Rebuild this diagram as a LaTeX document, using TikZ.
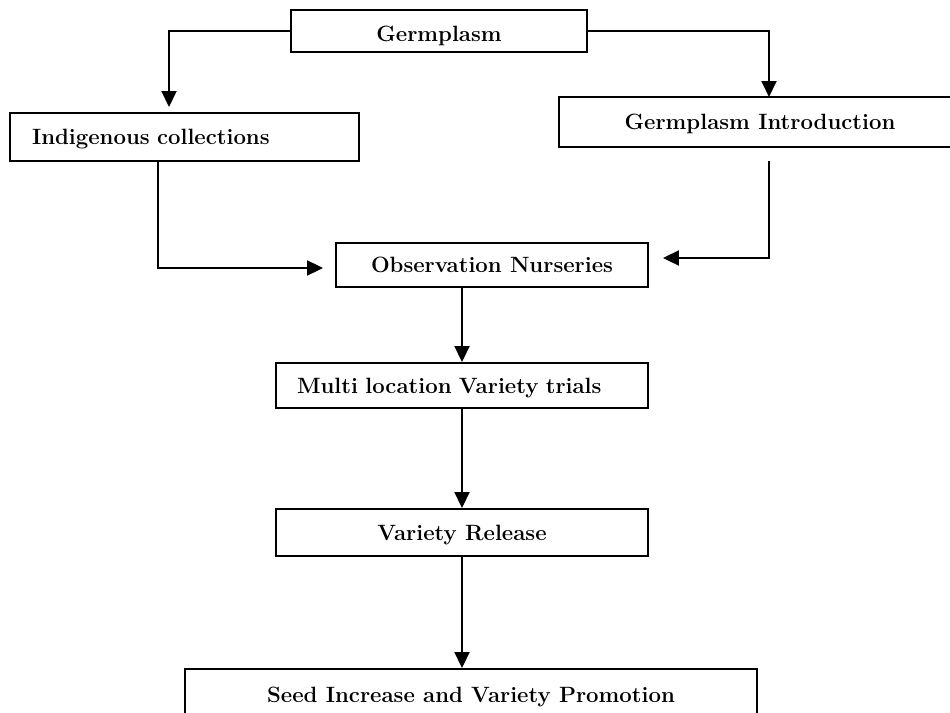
\documentclass[tikz,border=0pt]{standalone}
\usetikzlibrary{arrows.meta}
\begin{document}
\begin{tikzpicture}[x=0.02cm,y=-0.02cm,font=\bfseries\fontsize{12.6}{15}\selectfont,
  >={Triangle[length=0.32cm,width=0.3cm]},line width=1.1pt,
  box/.style={draw,rectangle,text height=8.6pt,text depth=0pt,inner sep=0pt}]
  \useasboundingbox[fill=white] (0,0) rectangle (950,713);
  \node[box,minimum width=5.92cm,minimum height=0.84cm,text height=11.4pt] (germ) at (439,31) {Germplasm};
  \node[box,align=left,text width=6.1cm,inner xsep=0.44cm,minimum height=0.96cm] (indig) at (184.5,137) {Indigenous collections};
  \node[box,minimum width=8.04cm,minimum height=1cm] (intro) at (760,122) {Germplasm Introduction};
  \node[box,minimum width=6.24cm,minimum height=0.88cm] (obs) at (492,265) {Observation Nurseries};
  \node[box,align=left,text width=6.6cm,inner xsep=0.42cm,minimum height=0.9cm] (multi) at (462,385.5) {Multi location Variety trials};
  \node[box,minimum width=7.44cm,minimum height=0.94cm] (release) at (462,532.5) {Variety Release};
  \node[box,minimum width=11.44cm,minimum height=1.02cm] (seed) at (471,694.5) {Seed Increase and Variety Promotion};
  % bends
  \coordinate (gl) at (169,113);
  \coordinate (gr) at (769,97);
  \coordinate (il) at (158,161);
  \coordinate (ir) at (769,161);
  \draw[->,shorten >=0.12cm] (germ.west) -| (gl);
  \draw[->] (germ.east) -| (gr);
  \draw[->,shorten >=0.24cm] (il) |- ([yshift=-0.06cm]obs.west);
  \draw[->,shorten >=0.28cm] (ir) |- ([yshift=0.14cm]obs.east);
  \draw[->] (obs.south -| multi.north) -- (multi.north);
  \draw[->] (multi.south) -- (release.north);
  \draw[->] (release.south) -- (release.south |- seed.north);
\end{tikzpicture}
\end{document}
